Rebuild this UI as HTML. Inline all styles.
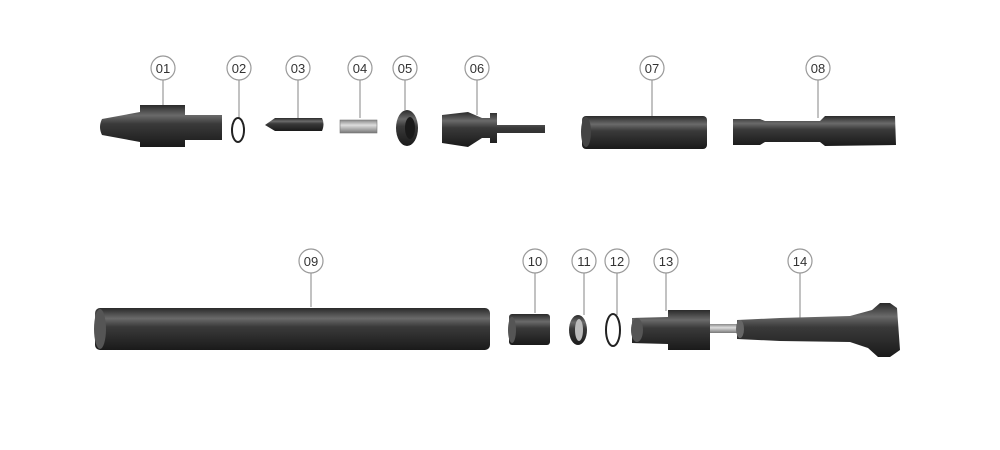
<!DOCTYPE html>
<html><head><style>
html,body{margin:0;padding:0;background:#fff;}
svg{display:block;}
text{font-family:"Liberation Sans",sans-serif;font-size:13px;fill:#333;text-anchor:middle;}
</style></head><body>
<svg width="1000" height="450" viewBox="0 0 1000 450" xmlns="http://www.w3.org/2000/svg">
<defs>
<linearGradient id="g" x1="0" y1="0" x2="0" y2="1">
<stop offset="0" stop-color="#2a2a2a"/><stop offset="0.25" stop-color="#6a6a6a"/><stop offset="0.45" stop-color="#3a3a3a"/><stop offset="1" stop-color="#1a1a1a"/>
</linearGradient>
<linearGradient id="s" x1="0" y1="0" x2="0" y2="1">
<stop offset="0" stop-color="#888"/><stop offset="0.4" stop-color="#ddd"/><stop offset="1" stop-color="#777"/>
</linearGradient>
</defs>
<g stroke="#999" stroke-width="1.2" fill="#fff">
<line x1="163" y1="80" x2="163" y2="110"/><circle cx="163" cy="68" r="12"/>
<line x1="239" y1="80" x2="239" y2="118"/><circle cx="239" cy="68" r="12"/>
<line x1="298" y1="80" x2="298" y2="118"/><circle cx="298" cy="68" r="12"/>
<line x1="360" y1="80" x2="360" y2="118"/><circle cx="360" cy="68" r="12"/>
<line x1="405" y1="80" x2="405" y2="110"/><circle cx="405" cy="68" r="12"/>
<line x1="477" y1="80" x2="477" y2="115"/><circle cx="477" cy="68" r="12"/>
<line x1="652" y1="80" x2="652" y2="116"/><circle cx="652" cy="68" r="12"/>
<line x1="818" y1="80" x2="818" y2="118"/><circle cx="818" cy="68" r="12"/>
<line x1="311" y1="273" x2="311" y2="307"/><circle cx="311" cy="261" r="12"/>
<line x1="535" y1="273" x2="535" y2="313"/><circle cx="535" cy="261" r="12"/>
<line x1="584" y1="273" x2="584" y2="315"/><circle cx="584" cy="261" r="12"/>
<line x1="617" y1="273" x2="617" y2="315"/><circle cx="617" cy="261" r="12"/>
<line x1="666" y1="273" x2="666" y2="311"/><circle cx="666" cy="261" r="12"/>
<line x1="800" y1="273" x2="800" y2="318"/><circle cx="800" cy="261" r="12"/>
</g>
<g stroke="none">
<text x="163" y="73">01</text><text x="239" y="73">02</text><text x="298" y="73">03</text><text x="360" y="73">04</text>
<text x="405" y="73">05</text><text x="477" y="73">06</text><text x="652" y="73">07</text><text x="818" y="73">08</text>
<text x="311" y="266">09</text><text x="535" y="266">10</text><text x="584" y="266">11</text><text x="617" y="266">12</text>
<text x="666" y="266">13</text><text x="800" y="266">14</text>
</g>
<!-- 01 -->
<path d="M102 119 Q98 127 102 135 L140 142 L140 147 L185 147 L185 140 L222 140 L222 115 L185 115 L185 105 L140 105 L140 112 Z" fill="url(#g)"/>
<!-- 02 -->
<ellipse cx="238" cy="130" rx="6" ry="12" fill="none" stroke="#222" stroke-width="2"/>
<!-- 03 -->
<path d="M265 125 L275 118 L322 118 Q325 124 322 131 L275 131 Z" fill="url(#g)"/>
<!-- 04 -->
<rect x="340" y="120" width="37" height="13" fill="url(#s)" stroke="#777" stroke-width="0.6"/>
<!-- 05 -->
<ellipse cx="407" cy="128" rx="11" ry="18" fill="url(#g)"/><ellipse cx="410" cy="128" rx="5" ry="11" fill="#1a1a1a"/>
<!-- 06 -->
<path d="M442 115 L468 112 L482 118 L490 118 L490 113 L497 113 L497 125 L545 125 L545 133 L497 133 L497 143 L490 143 L490 138 L482 138 L468 147 L442 143 Z" fill="url(#g)"/>
<!-- 07 -->
<rect x="582" y="116" width="125" height="33" rx="4" fill="url(#g)"/><ellipse cx="586" cy="132" rx="5" ry="15" fill="#444"/>
<!-- 08 -->
<path d="M733 119 L760 119 L765 121 L820 121 L825 116 L895 116 L896 145 L825 146 L820 142 L765 142 L760 145 L733 145 Z" fill="url(#g)"/>
<!-- 09 -->
<rect x="95" y="308" width="395" height="42" rx="5" fill="url(#g)"/><ellipse cx="100" cy="329" rx="6" ry="20" fill="#555"/>
<!-- 10 -->
<rect x="509" y="314" width="41" height="31" rx="3" fill="url(#g)"/><ellipse cx="512" cy="330" rx="4" ry="13" fill="#555"/>
<!-- 11 -->
<ellipse cx="578" cy="330" rx="9" ry="15" fill="url(#g)"/><ellipse cx="579" cy="330" rx="4" ry="11" fill="#bbb"/>
<!-- 12 -->
<ellipse cx="613" cy="330" rx="7" ry="16" fill="none" stroke="#222" stroke-width="2"/>
<!-- 13 -->
<path d="M632 318 L668 317 L668 310 L710 310 L710 350 L668 350 L668 344 L632 343 Z" fill="url(#g)"/>
<ellipse cx="637" cy="330" rx="6" ry="12" fill="#555"/>
<rect x="710" y="324" width="30" height="9" fill="url(#s)"/>
<!-- 14 -->
<path d="M737 320 L780 318 L850 316 L872 310 L880 303 L890 303 L897 308 L900 350 L890 357 L878 357 L868 348 L850 342 L780 341 L737 339 Z" fill="url(#g)"/>
<ellipse cx="740" cy="329" rx="4" ry="9" fill="#666"/>
</svg>
</body></html>
